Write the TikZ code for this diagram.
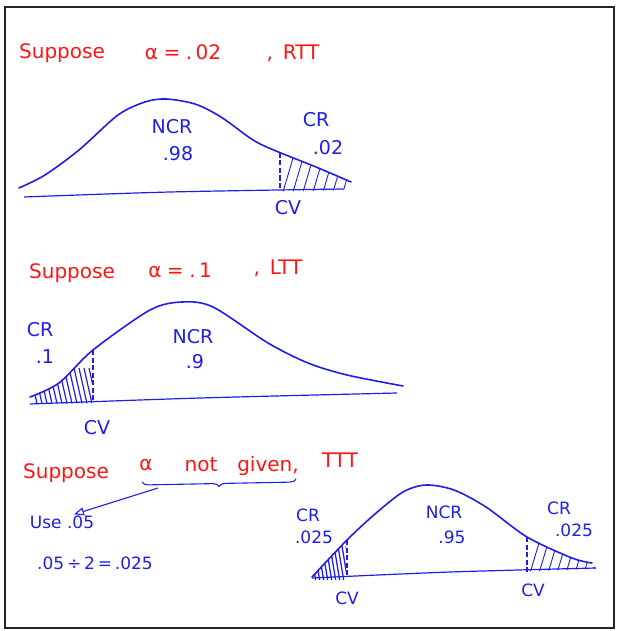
\documentclass[tikz,border=0pt]{standalone}
\usepackage{fontspec}
\setmainfont{DejaVu Sans}
\usetikzlibrary{arrows.meta,decorations.pathreplacing}
\definecolor{InkRed}{HTML}{FF1414}
\definecolor{InkBlue}{HTML}{1E1EE6}

\tikzset{
  redink/.style={text=InkRed, font=\fontsize{20}{24}\selectfont, inner sep=0pt},
  blueink/.style={text=InkBlue, font=\fontsize{19}{22}\selectfont, inner sep=0pt},
  smallink/.style={blueink, font=\fontsize{17}{20}\selectfont},
  bellcurve/.style={draw=InkBlue, line width=1.6pt, line join=round, line cap=round},
  axisline/.style={draw=InkBlue, line width=1.2pt},
  cvline/.style={draw=InkBlue, line width=1.4pt, dash pattern=on 5pt off 2.5pt},
  hatchline/.style={draw=InkBlue, line width=0.9pt},
}

\begin{document}
\begin{tikzpicture}[x=1pt,y=-1pt]
  \useasboundingbox (0,0) rectangle (619,631);
  \draw[line width=1.6pt, draw=black!85] (5,7) rectangle (614,628);

  % --- right tailed test
  \node[redink] (supone) at (62,53) {Suppose};
  \node[redink] (alphaone) at (183,52) {α\;=\;.\,02};
  \node[redink] (rtt) at (293,53) {,\enspace RTT};

  \draw[bellcurve] plot[smooth] coordinates {(19,188) (45,175) (79,150) (118,115)
    (145,102) (166,99) (195,104) (221,117) (253,140) (276,151) (316,167) (351,182)};
  \draw[axisline] plot[smooth] coordinates {(24,197) (170,192) (343,189)};
  \begin{scope}
    \clip (281,0) rectangle (360,200);
    \clip plot[smooth] coordinates {(19,188) (45,175) (79,150) (118,115)
      (145,102) (166,99) (195,104) (221,117) (253,140) (276,151) (316,167) (351,182)}
      -- (351,190) -- (19,197) -- cycle;
    \foreach \x in {283,293,...,353}
      \draw[hatchline] (\x,192) -- ++(10,-34);
  \end{scope}
  \draw[cvline] (280,153) -- (280,189);
  \node[blueink] (ncrone) at (172,127) {NCR};
  \node[blueink] (ncrvalone) at (178,154) {.98};
  \node[blueink] (crone) at (316,120) {CR};
  \node[blueink] (crvalone) at (328,148) {.02};
  \node[blueink] (cvone) at (288,208) {CV};

  % --- left tailed test
  \node[redink] (suptwo) at (72,273) {Suppose};
  \node[redink] (alphatwo) at (180,270) {α\;=\;.\,1};
  \node[redink] (ltt) at (278,268) {,\enspace LTT};

  \draw[bellcurve] plot[smooth] coordinates {(30,397) (59,383) (93,350)
    (150,310) (182,302) (213,307) (268,343) (308,363) (347,375) (403,386)};
  \draw[axisline] plot[smooth] coordinates {(30,404) (200,398) (397,393)};
  \begin{scope}
    \clip (20,300) rectangle (92,410);
    \clip plot[smooth] coordinates {(30,397) (59,383) (93,350)
      (150,310) (182,302)} -- (182,402) -- (30,404) -- cycle;
    \foreach \x in {38,43,...,98}
      \draw[hatchline, line width=1.2pt] (\x,408) -- ++(-9,-40);
  \end{scope}
  \draw[cvline] (93,350) -- (93,402);
  \node[blueink] (crtwo) at (40,330) {CR};
  \node[blueink] (crvaltwo) at (45,357) {.1};
  \node[blueink] (ncrtwo) at (193,337) {NCR};
  \node[blueink] (ncrvaltwo) at (195,362) {.9};
  \node[blueink] (cvtwo) at (97,428) {CV};

  % --- two tailed test
  \node[redink] (supthree) at (66,473) {Suppose};
  \node[redink] (alphathree) at (146,465) {α};
  \node[redink] (notthree) at (201,465) {not};
  \node[redink] (giventhree) at (268,466) {given,};
  \node[redink] (ttt) at (340,460) {TTT};

  \draw[InkBlue, line width=1.1pt, decorate, decoration={brace, mirror, amplitude=6pt}]
    (142,482) -- (296,479);
  \coordinate (bracefoot) at (158,488);
  \node[smallink] (usethree) at (62,522) {Use .05};
  \draw[InkBlue, line width=1.1pt, -{Triangle[open, length=10pt, width=8pt]}]
    (bracefoot) -- ([xshift=12pt,yshift=1pt]usethree.north);
  \node[smallink] (halfthree) at (95,563) {.05\,÷\,2\,=\,.025};

  \draw[bellcurve] plot[smooth] coordinates {(312,577) (347,540) (375,514)
    (403,492) (426,485) (454,490) (486,507) (527,537) (572,558) (592,563)};
  \draw[axisline] plot[smooth] coordinates {(312,578) (450,572) (596,568)};
  \begin{scope}
    \clip (300,480) rectangle (346,590);
    \clip plot[smooth] coordinates {(312,577) (347,540) (375,514) (403,492)}
      -- (403,580) -- (312,580) -- cycle;
    \foreach \x in {316,320,...,352}
      \draw[hatchline, line width=1.3pt] (\x,582) -- ++(-6,-36);
  \end{scope}
  \begin{scope}
    \clip (528,480) rectangle (600,590);
    \clip plot[smooth] coordinates {(454,490) (486,507) (527,537) (572,558)
      (592,563)} -- (596,569) -- (454,574) -- cycle;
    \foreach \x in {530,539,...,594}
      \draw[hatchline] (\x,573) -- ++(9,-30);
  \end{scope}
  \draw[cvline] (347,540) -- (347,576);
  \draw[cvline] (527,537) -- (527,572);
  \node[smallink] (crthreeleft) at (308,515) {CR};
  \node[smallink] (crvalthreeleft) at (314,537) {.025};
  \node[smallink] (ncrthree) at (444,512) {NCR};
  \node[smallink] (ncrvalthree) at (452,537) {.95};
  \node[smallink] (crthreeright) at (559,508) {CR};
  \node[smallink] (crvalthreeright) at (574,530) {.025};
  \node[smallink] (cvthreeleft) at (347,598) {CV};
  \node[smallink] (cvthreeright) at (533,590) {CV};
\end{tikzpicture}
\end{document}
